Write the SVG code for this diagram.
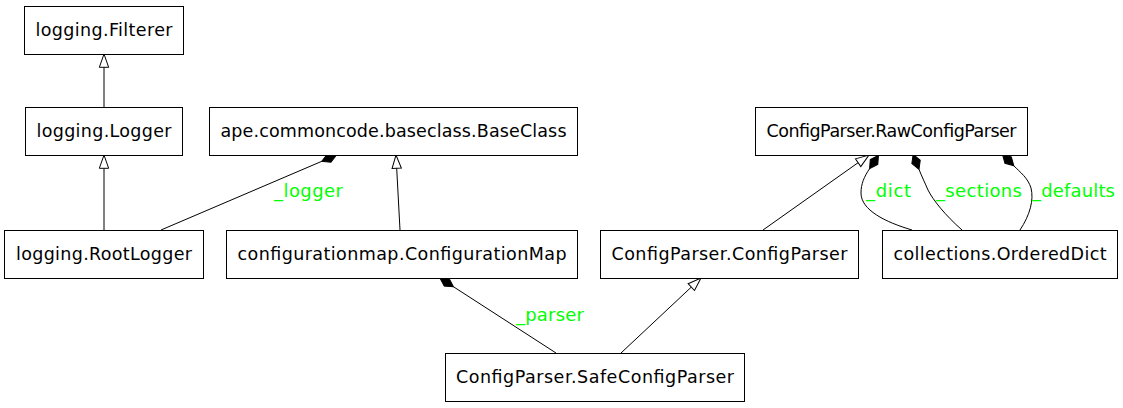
<svg xmlns="http://www.w3.org/2000/svg" width="1123" height="408" viewBox="0 0 1123 408">
<style>
.node rect{fill:#fff;stroke:#000;stroke-width:1}
.node text{font-family:"DejaVu Sans",sans-serif;font-size:17.5px;fill:#000;text-anchor:middle}
.edges path{fill:none;stroke:#000;stroke-width:1}
.lbl{font-family:"DejaVu Sans",sans-serif;font-size:18px;fill:#00ff00}
</style>
<defs>
<marker id="tri" markerUnits="userSpaceOnUse" viewBox="-1 -6 16 12" markerWidth="16" markerHeight="12" refX="0" refY="0" orient="auto" overflow="visible">
<path d="M0,-4.67 L13.3,0 L0,4.67 Z" fill="#fff" stroke="#000" stroke-width="1"/>
</marker>
<marker id="dia" markerUnits="userSpaceOnUse" viewBox="-1 -7 18 14" markerWidth="18" markerHeight="14" refX="0" refY="0" orient="auto" overflow="visible">
<path d="M0,0 L8,-4.5 L16,0 L8,4.5 Z" fill="#000" stroke="#000" stroke-width="1"/>
</marker>
</defs>
<rect width="1123" height="408" fill="#fff"/>
<g class="edges" id="edges">
<path d="M104,107 L104,67.3" marker-end="url(#tri)"/>
<path d="M104,230 L104,168.3" marker-end="url(#tri)"/>
<path d="M161,230 L321.8,161.3" marker-end="url(#dia)"/>
<path d="M400,230 L396.7,168.3" marker-end="url(#tri)"/>
<path d="M556,353 L453.4,286.7" marker-end="url(#dia)"/>
<path d="M621,353 L691.3,287.1" marker-end="url(#tri)"/>
<path d="M763,230 L858.1,162.7" marker-end="url(#tri)"/>
<path d="M912,230 C885,222 861,210 861,193 C861,184 864,177 869.6,168.6" marker-end="url(#dia)"/>
<path d="M962,230 C945,215 933,200 928,190 C925,183 922,177 919,169.4" marker-end="url(#dia)"/>
<path d="M1020,230 C1030,215 1034,200 1031,188 C1028,178 1020,172 1013.8,165.8" marker-end="url(#dia)"/>
<text class="lbl" x="274" y="197" textLength="69">_logger</text>
<text class="lbl" x="516" y="321" textLength="68">_parser</text>
<text class="lbl" x="866" y="197" textLength="45">_dict</text>
<text class="lbl" x="936" y="197" textLength="86">_sections</text>
<text class="lbl" x="1032" y="197" textLength="83">_defaults</text>
</g>
<g class="node" id="n_filterer"><rect x="24.5" y="6.5" width="159" height="48"/><text x="104" y="36" textLength="137">logging.Filterer</text></g>
<g class="node" id="n_logger"><rect x="25.5" y="107.5" width="157" height="48"/><text x="104" y="137" textLength="135">logging.Logger</text></g>
<g class="node" id="n_baseclass"><rect x="209.5" y="107.5" width="368" height="48"/><text x="393.5" y="137" textLength="346">ape.commoncode.baseclass.BaseClass</text></g>
<g class="node" id="n_raw"><rect x="755.5" y="107.5" width="272" height="48"/><text x="891.5" y="137" textLength="250">ConfigParser.RawConfigParser</text></g>
<g class="node" id="n_rootlogger"><rect x="4.5" y="230.5" width="199" height="48"/><text x="104" y="260" textLength="176">logging.RootLogger</text></g>
<g class="node" id="n_configmap"><rect x="226.5" y="230.5" width="351" height="48"/><text x="402" y="260" textLength="329">configurationmap.ConfigurationMap</text></g>
<g class="node" id="n_configparser"><rect x="600.5" y="230.5" width="258" height="48"/><text x="729.5" y="260" textLength="236">ConfigParser.ConfigParser</text></g>
<g class="node" id="n_ordereddict"><rect x="882.5" y="230.5" width="235" height="48"/><text x="1000" y="260" textLength="213">collections.OrderedDict</text></g>
<g class="node" id="n_safe"><rect x="445.5" y="353.5" width="299" height="48"/><text x="595" y="383" textLength="278">ConfigParser.SafeConfigParser</text></g>
</svg>
